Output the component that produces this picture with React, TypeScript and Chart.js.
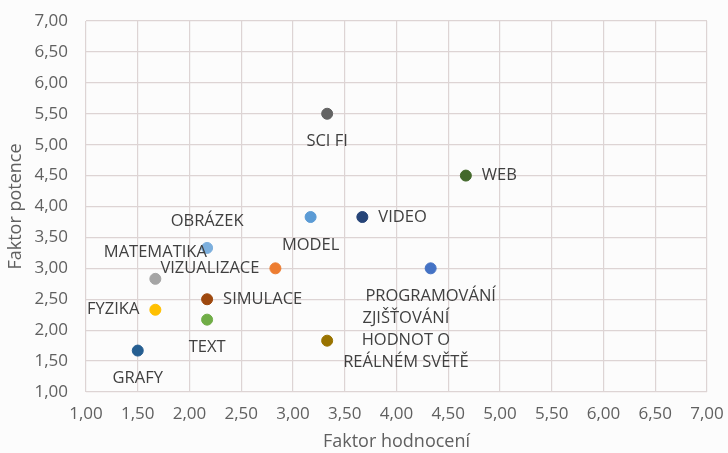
import React, { useEffect, useRef } from "react";
import { Chart, registerables } from "chart.js";

Chart.register(...registerables);

const names = [
  "GRAFY",
  "FYZIKA",
  "MATEMATIKA",
  "TEXT",
  "SIMULACE",
  "OBRÁZEK",
  "VIZUALIZACE",
  "MODEL",
  "VIDEO",
  "SCI FI",
  "WEB",
  "PROGRAMOVÁNÍ",
  "ZJIŠŤOVÁNÍ\nHODNOT O\nREÁLNÉM SVĚTĚ",
];
const xValues = [1.5, 1.67, 1.67, 2.17, 2.17, 2.17, 2.83, 3.17, 3.67, 3.33, 4.67, 4.33, 3.33];
const yValues = [1.67, 2.33, 2.83, 2.17, 2.5, 3.33, 3.0, 3.83, 3.83, 5.5, 4.5, 3.0, 1.83];
const tickValues = [1, 1.5, 2, 2.5, 3, 3.5, 4, 4.5, 5, 5.5, 6, 6.5, 7];
const xTitle = "Faktor hodnocení";
const yTitle = "Faktor potence";

// styles
const colors = [
  "#255e91",
  "#ffc000",
  "#a5a5a5",
  "#70ad47",
  "#9e480e",
  "#7cafdd",
  "#ed7d31",
  "#5b9bd5",
  "#264478",
  "#636363",
  "#43682b",
  "#4472c4",
  "#997300",
];
const labelSides = [
  "bottom",
  "left",
  "top",
  "bottom",
  "right",
  "top",
  "left",
  "bottom",
  "right",
  "bottom",
  "right",
  "bottom",
  "right",
];

const FONT = "'Open Sans', 'DejaVu Sans', sans-serif";
const fmt = (v: number) => v.toFixed(2).replace(".", ",");

const labelPlugin = {
  id: "pointLabels",
  afterDatasetsDraw(chart: any) {
    const ctx = chart.ctx;
    ctx.save();
    ctx.font = `16.5px ${FONT}`;
    ctx.fillStyle = "#404040";
    ctx.textBaseline = "middle";
    chart.data.datasets.forEach((ds: any, i: number) => {
      const meta = chart.getDatasetMeta(i);
      const el = meta.data[0];
      if (!el) return;
      const lines = String(ds.label).split("\n");
      const lh = 22;
      const widths = lines.map((l: string) => ctx.measureText(l).width);
      const maxW = Math.max(...widths);
      const side = labelSides[i];
      let cx = el.x;
      let cy = el.y;
      if (side === "top") cy = el.y - 27;
      else if (side === "bottom") cy = el.y + 28;
      else if (side === "right") cx = el.x + 16 + maxW / 2;
      else if (side === "left") cx = el.x - 16 - maxW / 2;
      ctx.textAlign = "center";
      const startY = cy - ((lines.length - 1) * lh) / 2;
      lines.forEach((l: string, k: number) => {
        ctx.fillText(l, cx, startY + k * lh);
      });
    });
    ctx.restore();
  },
};

const bgPlugin = {
  id: "bg",
  beforeDraw(chart: any) {
    const ctx = chart.ctx;
    ctx.save();
    ctx.fillStyle = "#fcfcfc";
    ctx.fillRect(0, 0, chart.width, chart.height);
    ctx.restore();
  },
};

export default function App() {
  const ref = useRef<HTMLCanvasElement>(null);
  useEffect(() => {
    document.body.style.margin = "0";
    const canvas = ref.current!;
    const chart = new Chart(canvas, {
      type: "scatter",
      data: {
        datasets: names.map((n, i) => ({
          label: n,
          data: [{ x: xValues[i], y: yValues[i] }],
          backgroundColor: colors[i],
          borderColor: colors[i],
          pointRadius: 5.5,
          pointHoverRadius: 5.5,
        })),
      },
      options: {
        animation: false,
        responsive: false,
        maintainAspectRatio: false,
        layout: { padding: { top: 21, right: 21, left: 0, bottom: 0 } },
        plugins: {
          legend: { display: false },
          tooltip: { enabled: false },
        },
        scales: {
          x: {
            type: "linear",
            min: 1,
            max: 7,
            afterBuildTicks: (s: any) => {
              s.ticks = tickValues.map((v) => ({ value: v }));
            },
            afterFit: (s: any) => {
              s.height = 61;
              s.paddingLeft = 0;
              s.paddingRight = 0;
            },
            grid: { color: "#ddd4d4", lineWidth: 1.2, drawTicks: false },
            border: { display: false },
            ticks: {
              padding: 12,
              maxRotation: 0,
              autoSkip: false,
              color: "#606060",
              font: { family: FONT, size: 17 },
              callback: (v: any) => fmt(Number(v)),
            },
            title: {
              display: true,
              text: xTitle,
              color: "#606060",
              font: { family: FONT, size: 18 },
              padding: { top: 0, bottom: 0 },
            },
          },
          y: {
            type: "linear",
            min: 1,
            max: 7,
            afterBuildTicks: (s: any) => {
              s.ticks = tickValues.map((v) => ({ value: v }));
            },
            afterFit: (s: any) => {
              s.width = 86;
              s.paddingTop = 0;
              s.paddingBottom = 0;
            },
            grid: { color: "#ddd4d4", lineWidth: 1.2, drawTicks: false },
            border: { display: false },
            ticks: {
              padding: 18,
              autoSkip: false,
              color: "#606060",
              font: { family: FONT, size: 17 },
              callback: (v: any) => fmt(Number(v)),
            },
            title: {
              display: true,
              text: yTitle,
              color: "#606060",
              font: { family: FONT, size: 18 },
              padding: { top: 5, bottom: 0 },
            },
          },
        },
      },
      plugins: [bgPlugin, labelPlugin],
    });
    return () => chart.destroy();
  }, []);
  return <canvas ref={ref} width={728} height={453} style={{ display: "block" }} />;
}
